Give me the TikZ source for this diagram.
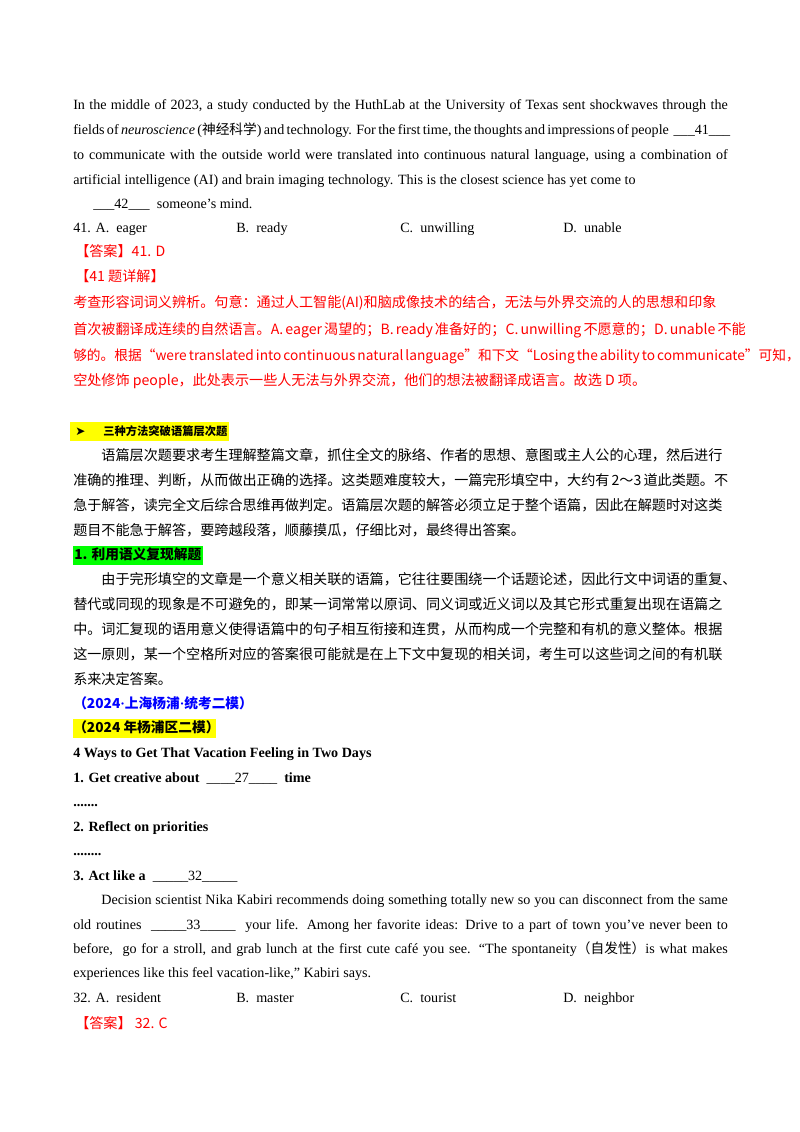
\documentclass[tikz,border=0pt]{standalone}
\usepackage{fontspec}
\setmainfont{Liberation Serif}
\newfontfamily\cjk{Noto Sans CJK SC}
\newfontfamily\dvs{DejaVu Sans}
\usetikzlibrary{positioning}
\definecolor{ansred}{RGB}{255,0,0}
\definecolor{srcblue}{RGB}{0,0,255}
\definecolor{hlyellow}{RGB}{255,255,0}
\definecolor{hlgreen}{RGB}{0,255,0}
\hbadness=10000 \hfuzz=100pt
\newcommand\jbox[1]{\hbox to 487pt{#1}}
\newcommand\ind{\hspace*{21pt}}
\newcommand\mdot{{\rmfamily\bfseries ·}}
\tikzset{
  ln/.style={anchor=base west, inner sep=0pt, font=\fontsize{10.5}{12}\selectfont},
  zh/.style={ln, font=\fontsize{10.5}{12}\selectfont\cjk},
  ans/.style={text=ansred},
  bd/.style={ln, font=\fontsize{10.5}{12}\selectfont\bfseries},
  zb/.style={ln, font=\fontsize{10.2}{12}\selectfont\cjk\bfseries}
}
\begin{document}
\begin{tikzpicture}[x=0.744pt, y=-0.744pt]
  \useasboundingbox [fill=white] (0,0) rectangle (800,1132);

  % passage 41
  \node [ln] (p1) at (73,109) {\jbox{In the middle of 2023, a study conducted by the HuthLab at the University of Texas sent shockwaves through the}};
  \node [ln] (p2) at (73,134) {\jbox{fields of \textit{neuroscience} ({\cjk\fontsize{10.2}{12}\selectfont 神经科学}) and technology. For the first time, the thoughts and impressions of people \ \_\_\_41\_\_\_}};
  \node [ln] (p3) at (73,159) {\jbox{to communicate with the outside world were translated into continuous natural language, using a combination of}};
  \node [ln] (p4) at (73,184) {artificial intelligence (AI) and brain imaging technology. This is the closest science has yet come to};
  \node [ln] (p5) at (93,208) {\_\_\_42\_\_\_ \ someone's mind.};

  \node [ln] (q41a) at (73,232) {41. A.\ \ eager};
  \node [ln] (q41b) at (236,232) {B.\ \ ready};
  \node [ln] (q41c) at (400,232) {C.\ \ unwilling};
  \node [ln] (q41d) at (563,232) {D.\ \ unable};

  \node [zh, ans] (a41) at (75,256) {【答案】41. D};
  \node [zh, ans] (x41) at (75,281) {【41 题详解】};
  \node [zh, ans] (e1) at (73,307) {\jbox{考查形容词词义辨析。句意：通过人工智能(AI)和脑成像技术的结合，无法与外界交流的人的思想和印象}};
  \node [zh, ans] (e2) at (73,334) {\jbox{首次被翻译成连续的自然语言。A. eager 渴望的；B. ready 准备好的；C. unwilling 不愿意的；D. unable 不能}};
  \node [zh, ans, font=\fontsize{10.2}{12}\selectfont\cjk] (e3) at (73,360) {\jbox{够的。根据“were translated into continuous natural language”和下文“Losing the ability to communicate”可知，}};
  \node [zh, ans] (e4) at (73,385) {空处修饰 people，此处表示一些人无法与外界交流，他们的想法被翻译成语言。故选 D 项。};

  % method heading
  \fill [hlyellow] (70,422) rectangle (229,441);
  \node [ln, font=\fontsize{9}{12}\selectfont\dvs] (arr) at (75,435) {➤};
  \node [zb, font=\fontsize{8.4}{12}\selectfont\cjk\bfseries] (head) at (103,435) {三种方法突破语篇层次题};
  \node [zh] (m1) at (73,460) {\jbox{\ind 语篇层次题要求考生理解整篇文章，抓住全文的脉络、作者的思想、意图或主人公的心理，然后进行}};
  \node [zh] (m2) at (73,485) {\jbox{准确的推理、判断，从而做出正确的选择。这类题难度较大，一篇完形填空中，大约有 2～3 道此类题。不}};
  \node [zh] (m3) at (73,510) {\jbox{急于解答，读完全文后综合思维再做判定。语篇层次题的解答必须立足于整个语篇，因此在解题时对这类}};
  \node [zh] (m4) at (73,535) {题目不能急于解答，要跨越段落，顺藤摸瓜，仔细比对，最终得出答案。};

  \fill [hlgreen] (73,546) rectangle (203,565);
  \node [zb] (sub1) at (74,559) {1. 利用语义复现解题};
  \node [zh] (r1) at (73,584) {\jbox{\ind 由于完形填空的文章是一个意义相关联的语篇，它往往要围绕一个话题论述，因此行文中词语的重复、}};
  \node [zh] (r2) at (73,609) {\jbox{替代或同现的现象是不可避免的，即某一词常常以原词、同义词或近义词以及其它形式重复出现在语篇之}};
  \node [zh] (r3) at (73,634) {\jbox{中。词汇复现的语用意义使得语篇中的句子相互衔接和连贯，从而构成一个完整和有机的意义整体。根据}};
  \node [zh] (r4) at (73,659) {\jbox{这一原则，某一个空格所对应的答案很可能就是在上下文中复现的相关词，考生可以这些词之间的有机联}};
  \node [zh] (r5) at (73,684) {系来决定答案。};

  \node [zb, text=srcblue] (src) at (73,708) {（2024\mdot 上海杨浦\mdot 统考二模）};
  \fill [hlyellow] (73,719) rectangle (216,738);
  \node [zb] (src2) at (73,732) {（2024 年杨浦区二模）};

  % passage 32
  \node [bd] (t0) at (73,757) {4 Ways to Get That Vacation Feeling in Two Days};
  \node [bd] (t1) at (73,782) {1. Get creative about \ \mdseries\_\_\_\_27\_\_\_\_ \ \bfseries time};
  \node [bd] (d1) at (73,806) {.......};
  \node [bd] (t2) at (73,831) {2. Reflect on priorities};
  \node [bd] (d2) at (73,855) {........};
  \node [bd] (t3) at (73,880) {3. Act like a \ \mdseries\_\_\_\_\_32\_\_\_\_\_};
  \node [ln] (s1) at (73,904) {\jbox{\ind Decision scientist Nika Kabiri recommends doing something totally new so you can disconnect from the same}};
  \node [ln] (s2) at (73,929) {\jbox{old routines \ \_\_\_\_\_33\_\_\_\_\_ \ your life. Among her favorite ideas: Drive to a part of town you've never been to}};
  \node [ln] (s3) at (73,953) {\jbox{before, \ go for a stroll, and grab lunch at the first cute café you see. “The spontaneity{\cjk\fontsize{10.2}{12}\selectfont （自发性）}is what makes}};
  \node [ln] (s4) at (73,977) {experiences like this feel vacation-like,” Kabiri says.};

  \node [ln] (q32a) at (73,1002) {32. A.\ \ resident};
  \node [ln] (q32b) at (236,1002) {B.\ \ master};
  \node [ln] (q32c) at (400,1002) {C.\ \ tourist};
  \node [ln] (q32d) at (563,1002) {D.\ \ neighbor};
  \node [zh, ans] (a32) at (75,1028) {【答案】\ 32. C};
\end{tikzpicture}
\end{document}
